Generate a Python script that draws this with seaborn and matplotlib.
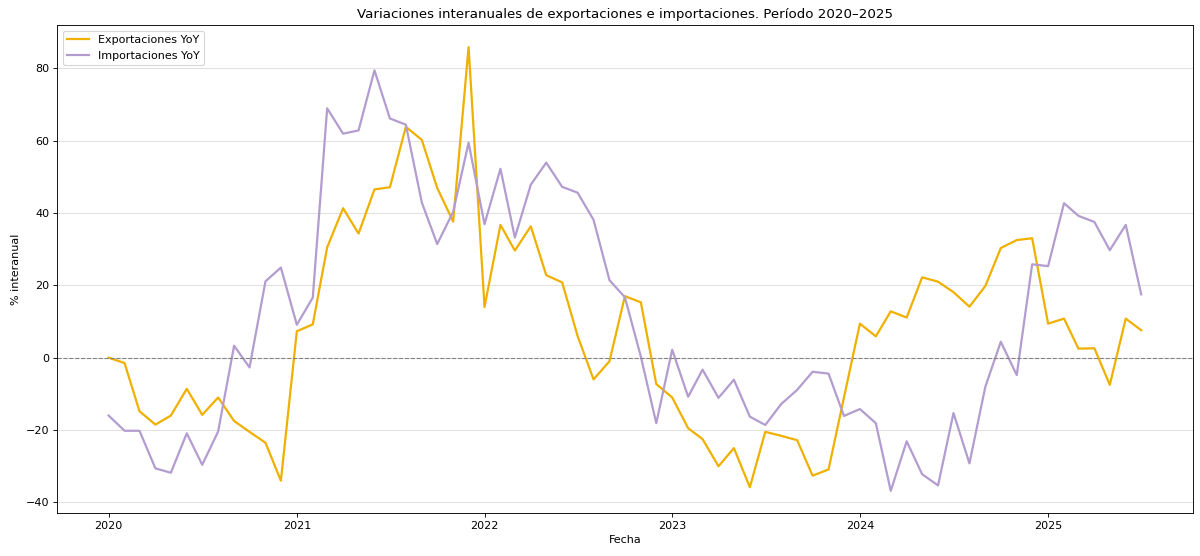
import matplotlib
matplotlib.use("Agg")
import matplotlib.pyplot as plt
import seaborn as sns
import pandas as pd

# monthly YoY changes, Jan 2020 - Jul 2025
exportaciones = [
    0.0, -1.5, -14.8, -18.5, -16.0, -8.6, -15.8, -11.0, -17.5, -20.5, -23.5, -34.0,
    7.3, 9.2, 30.5, 41.3, 34.3, 46.5, 47.1, 63.8, 60.2, 46.9, 37.6, 85.8,
    14.0, 36.7, 29.6, 36.3, 22.8, 20.8, 6.0, -6.0, -1.0, 17.0, 15.3, -7.3,
    -11.0, -19.5, -22.5, -30.0, -25.0, -35.8, -20.5, -21.6, -22.8, -32.6, -30.9, -11.0,
    9.4, 5.9, 12.8, 11.1, 22.2, 21.0, 18.1, 14.1, 19.8, 30.3, 32.5, 33.0,
    9.4, 10.8, 2.5, 2.6, -7.5, 10.8, 7.6,
]
importaciones = [
    -16.0, -20.2, -20.2, -30.6, -31.8, -20.9, -29.6, -20.4, 3.3, -2.7, 21.1, 24.9,
    9.1, 16.6, 68.9, 61.9, 62.8, 79.4, 66.1, 64.4, 42.9, 31.4, 40.3, 59.4,
    36.9, 52.2, 33.2, 47.8, 53.9, 47.2, 45.6, 38.1, 21.4, 16.7, 0.3, -18.1,
    2.2, -10.8, -3.3, -11.1, -6.1, -16.3, -18.6, -12.8, -8.9, -3.9, -4.4, -16.1,
    -14.2, -18.1, -36.8, -23.1, -32.2, -35.3, -15.3, -29.2, -8.0, 4.4, -4.8, 25.8,
    25.3, 42.7, 39.2, 37.5, 29.7, 36.7, 17.5,
]
fechas = pd.date_range("2020-01-01", periods=len(exportaciones), freq="MS")
series = ["Exportaciones YoY", "Importaciones YoY"]
colores = ["#F0B000", "#B39CCF"]

df = pd.concat([
    pd.DataFrame({"Fecha": fechas, "valor": exportaciones, "serie": series[0]}),
    pd.DataFrame({"Fecha": fechas, "valor": importaciones, "serie": series[1]}),
])

fig = plt.figure(figsize=(15, 6.95), dpi=80)
ax = fig.add_axes([0.0475, 0.0773, 0.9465, 0.8777])

sns.lineplot(data=df, x="Fecha", y="valor", hue="serie",
             palette=dict(zip(series, colores)), linewidth=2, ax=ax)

ax.axhline(0, color="gray", linestyle="--", linewidth=1)
ax.grid(axis="y", color="#dddddd", linewidth=0.8)
ax.set_axisbelow(True)

ax.set_title("Variaciones interanuales de exportaciones e importaciones. Período 2020–2025")
ax.set_xlabel("Fecha")
ax.set_ylabel("% interanual")
ax.legend(loc="upper left")

fig.savefig("out.png", dpi=80)
